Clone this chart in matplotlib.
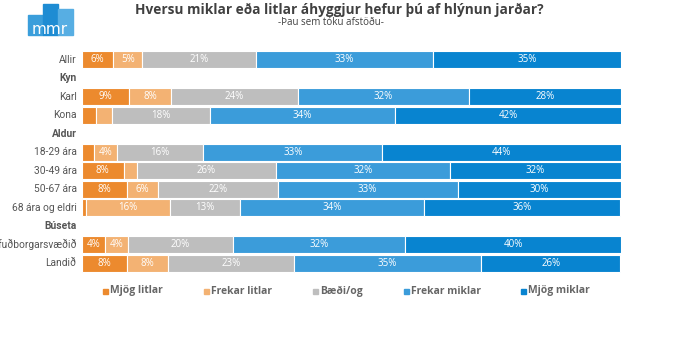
import numpy as np
import matplotlib
matplotlib.use("Agg")
import matplotlib.pyplot as plt
from matplotlib.patches import Rectangle

# ---------------------------------------------------------------------------
# data (percent; nan = group header row)
# ---------------------------------------------------------------------------
nan = np.nan
row_labels = ["Allir", "Kyn", "Karl", "Kona", "Aldur", "18-29 ára", "30-49 ára",
              "50-67 ára", "68 ára og eldri", "Búseta", "Höfuðborgarsvæðið", "Landið"]
header_rows = ["Kyn", "Aldur", "Búseta"]

mjog_litlar    = [5.8, nan, 8.7, 2.6, nan, 2.2, 7.7, 8.3, 0.7, nan, 4.3, 8.4]
frekar_litlar  = [5.4, nan, 7.8, 2.9, nan, 4.3, 2.5, 5.8, 15.6, nan, 4.2, 7.6]
baedi_og       = [21.0, nan, 23.6, 18.3, nan, 16.0, 25.8, 22.2, 13.0, nan, 19.6, 23.4]
frekar_miklar  = [33.0, nan, 31.7, 34.2, nan, 33.2, 32.2, 33.4, 34.2, nan, 31.9, 34.6]
mjog_miklar    = [34.8, nan, 28.2, 42.1, nan, 44.4, 31.8, 30.3, 36.3, nan, 40.0, 25.9]

series_names = ["Mjög litlar", "Frekar litlar", "Bæði/og", "Frekar miklar", "Mjög miklar"]
series = [mjog_litlar, frekar_litlar, baedi_og, frekar_miklar, mjog_miklar]
colors = ["#EC8A2E", "#F3B273", "#BEBEBE", "#3B9CDA", "#0884D0"]

TXT = "#555555"
FONT = "Open Sans"
LFONT = "Roboto"
W, H = 696, 343

fig = plt.figure(figsize=(W / 100, H / 100), dpi=100)
fig.patch.set_facecolor("white")

# axes placed in pixel terms
left, right, top, bottom = 82, 621, 50, 273
ax = fig.add_axes([left / W, 1 - bottom / H, (right - left) / W, (bottom - top) / H])

y = np.arange(len(row_labels))
base = np.zeros(len(row_labels))
for name, vals, col in zip(series_names, series, colors):
    v = np.array(vals, dtype=float)
    ok = ~np.isnan(v)
    ax.barh(y[ok], v[ok], left=base[ok], height=0.92, color=col,
            edgecolor="white", linewidth=0.8)
    for yi, b, val in zip(y[ok], base[ok], v[ok]):
        if val >= 3.5:
            ax.text(b + val / 2, yi, f"{round(val):.0f}%", ha="center", va="center",
                    color="white", fontsize=7, family=FONT)
    base[ok] += v[ok]

ax.set_xlim(0, 100)
ax.set_ylim(len(row_labels) - 0.46, -0.54)
ax.axis("off")

# row labels (the long one runs off the left edge, as in the original)
for yi, lab in zip(y, row_labels):
    bold = lab in header_rows
    ax.text(-1.0, yi, lab, ha="right", va="center", fontsize=7.4, color=TXT,
            family=LFONT, fontweight="bold" if bold else "normal", clip_on=False)

# title
fig.text(339 / W, 1 - 10 / H, "Hversu miklar eða litlar áhyggjur hefur þú af hlýnun jarðar?",
         ha="center", va="center", fontsize=9.8, fontweight="bold", color="#404040", family=FONT)
fig.text(331 / W, 1 - 22.5 / H, "-Þau sem tóku afstöðu-", ha="center", va="center",
         fontsize=7, color="#404040", family=FONT)

# legend
leg_x = [105, 206, 315, 406, 523]
leg_y = 1 - 291 / H
for lx, name, col in zip(leg_x, series_names, colors):
    fig.patches.append(Rectangle(((lx - 2.5) / W, leg_y - 2.5 / H), 5 / W, 5 / H,
                                 transform=fig.transFigure, color=col))
    fig.text((lx + 5) / W, leg_y, name, ha="left", va="center", fontsize=7.5,
             fontweight="bold", color="#666666", family=FONT)

# mmr logo
logo = [(28, 15, "#3A9EDB"), (43, 4, "#1E8CD3"), (58, 9, "#57AEE3")]
for lx, ltop, col in logo:
    fig.patches.append(Rectangle((lx / W, 1 - 35 / H), 14.5 / W, (35 - ltop) / H,
                                 transform=fig.transFigure, color=col))
fig.text(50 / W, 1 - 29 / H, "mmr", ha="center", va="center", fontsize=11,
         color="white", family="DejaVu Sans")

fig.savefig("out.png", dpi=100, facecolor="white")
